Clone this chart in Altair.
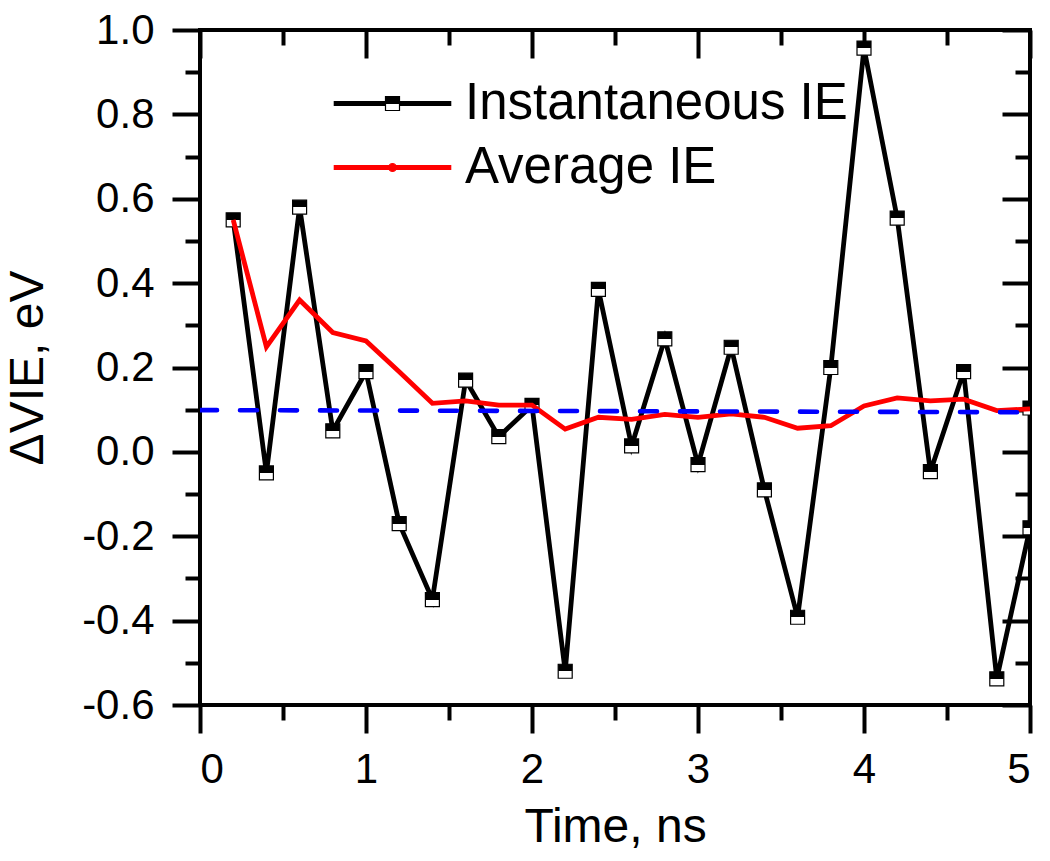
import altair as alt
import pandas as pd

FONT = "Liberation Sans"
series_names = ["Instantaneous IE", "Average IE"]

# Instantaneous IE (black line with half-filled squares)
time_inst = [0.2, 0.4, 0.6, 0.8, 1.0, 1.2, 1.4, 1.6, 1.8, 2.0, 2.2, 2.4, 2.6,
             2.8, 3.0, 3.2, 3.4, 3.6, 3.8, 4.0, 4.2, 4.4, 4.6, 4.8, 5.0, 5.0]
inst_vals = [0.55, -0.05, 0.58, 0.05, 0.19, -0.17, -0.35, 0.17, 0.036, 0.11,
             -0.52, 0.385, 0.014, 0.268, -0.03, 0.248, -0.09, -0.392, 0.20,
             0.957, 0.554, -0.047, 0.19, -0.538, -0.18, 0.104]

# Average IE (red line)
time_avg = [0.2, 0.4, 0.6, 0.8, 1.0, 1.2, 1.4, 1.6, 1.8, 2.0, 2.2, 2.4, 2.6,
            2.8, 3.0, 3.2, 3.4, 3.6, 3.8, 4.0, 4.2, 4.4, 4.6, 4.8, 5.0]
avg_vals = [0.55, 0.249, 0.36, 0.283, 0.263, 0.19, 0.115, 0.121, 0.111, 0.111,
            0.054, 0.082, 0.077, 0.089, 0.082, 0.09, 0.082, 0.056, 0.062,
            0.109, 0.128, 0.121, 0.125, 0.098, 0.102]

# Blue dashed reference line
time_fit = [0.0, 5.0]
fit_vals = [0.099, 0.094]

x_major = [0, 1, 2, 3, 4, 5]
x_minor = [0.5, 1.5, 2.5, 3.5, 4.5]
y_major = [-0.6, -0.4, -0.2, 0.0, 0.2, 0.4, 0.6, 0.8, 1.0]
y_minor = [-0.5, -0.3, -0.1, 0.1, 0.3, 0.5, 0.7, 0.9]

inst_df = pd.DataFrame({"t": time_inst, "v": inst_vals,
                        "series": series_names[0],
                        "idx": list(range(len(time_inst)))})
avg_df = pd.DataFrame({"t": time_avg, "v": avg_vals,
                       "series": series_names[1],
                       "idx": list(range(len(time_avg)))})
fit_df = pd.DataFrame({"t": time_fit, "v": fit_vals})

xs = alt.Scale(domain=[0, 5], nice=False, zero=False)
ys = alt.Scale(domain=[-0.6, 1.0], nice=False, zero=False)

LW = 4      # frame / ticks
DLW = 4.8   # data lines
minus_fix = "replace(format(datum.value, '.1f'), '\u2212', '-')"


def minor_axis(orient, values, size, offset=0):
    kw = dict(orient=orient, values=values, tickSize=size, tickWidth=LW,
              tickColor="black", domain=False, grid=False, labels=False,
              title=None)
    if offset:
        kw["offset"] = offset
    return alt.Axis(**kw)


x_bottom = alt.Axis(orient="bottom", values=x_major, format="d",
                    tickSize=28, tickWidth=LW, tickColor="black",
                    domain=False, grid=False, labelFontSize=42,
                    labelFont=FONT, labelColor="black", labelPadding=16,
                    title="Time, ns", titleFont=FONT, titleFontSize=48,
                    titleFontWeight="normal", titleColor="black",
                    titlePadding=13)
y_left = alt.Axis(orient="left", values=y_major, labelExpr=minus_fix,
                  tickSize=28, tickWidth=LW, tickColor="black",
                  domain=False, grid=False, labelFontSize=42,
                  labelFont=FONT, labelColor="black", labelPadding=18,
                  title="ΔVIE, eV", titleFont=FONT, titleFontSize=48,
                  titleFontWeight="normal", titleColor="black",
                  titlePadding=29)

LEG_X = 167
LEG_Y = 48
line_legend = alt.Legend(orient="none", legendX=LEG_X, legendY=LEG_Y,
                         title=None, symbolType="M-8.4,0H8.4",
                         symbolSize=196, symbolStrokeWidth=DLW,
                         labelFontSize=51, labelFont=FONT,
                         labelColor="black", labelOffset=47, labelLimit=0,
                         rowPadding=12, padding=0)
marker_legend = alt.Legend(orient="none", legendX=LEG_X, legendY=LEG_Y,
                           title=None, symbolSize=196, symbolStrokeWidth=1.2,
                           labelFontSize=51, labelFont=FONT,
                           labelColor="rgba(0,0,0,0)", labelOffset=47,
                           labelLimit=0, rowPadding=12, padding=0)

half_fill = ("{gradient: 'linear', x1: 0, y1: 0, x2: 0, y2: 1, stops: ["
             "{offset: 0, color: 'black'}, {offset: 0.5, color: 'black'}, "
             "{offset: 0.5, color: 'white'}, {offset: 1, color: 'white'}]}")
dot_path = "M0.55,0A0.55,0.55,0,1,1,-0.55,0A0.55,0.55,0,1,1,0.55,0Z"

black_line = alt.Chart(inst_df).mark_line(strokeWidth=DLW, clip=True).encode(
    x=alt.X("t:Q", scale=xs, axis=x_bottom),
    y=alt.Y("v:Q", scale=ys, axis=y_left),
    order=alt.Order("idx:Q"),
    color=alt.Color("series:N",
                    scale=alt.Scale(domain=series_names, range=["black", "red"]),
                    legend=line_legend),
)

markers = alt.Chart(inst_df).mark_point(filled=True, opacity=1, size=196,
                                        strokeWidth=1.2, clip=True).encode(
    x=alt.X("t:Q", scale=xs, axis=minor_axis("bottom", x_minor, 15)),
    y=alt.Y("v:Q", scale=ys, axis=minor_axis("left", y_minor, 15)),
    fill=alt.Fill("series:N",
                  scale=alt.Scale(domain=series_names,
                                  range=[alt.ExprRef(half_fill), "red"]),
                  legend=marker_legend),
    stroke=alt.Stroke("series:N",
                      scale=alt.Scale(domain=series_names, range=["black", "red"]),
                      legend=marker_legend),
    shape=alt.Shape("series:N",
                    scale=alt.Scale(domain=series_names, range=["square", dot_path]),
                    legend=marker_legend),
)

red_line = alt.Chart(avg_df).mark_line(strokeWidth=DLW, color="red", clip=True).encode(
    x=alt.X("t:Q", scale=xs, axis=minor_axis("top", x_major, 28, -28)),
    y=alt.Y("v:Q", scale=ys, axis=minor_axis("right", y_major, 28, -28)),
    order=alt.Order("idx:Q"),
)

blue_line = alt.Chart(fit_df).mark_line(strokeWidth=4.6, color="#0000ff",
                                        strokeDash=[17, 23], strokeCap="round",
                                        clip=True).encode(
    x=alt.X("t:Q", scale=xs, axis=minor_axis("top", x_minor, 15, -15)),
    y=alt.Y("v:Q", scale=ys, axis=minor_axis("right", y_minor, 15, -15)),
)

chart = alt.layer(black_line, markers, red_line, blue_line).resolve_axis(
    x="independent", y="independent"
).resolve_legend(
    color="independent", fill="independent", stroke="independent",
    shape="independent"
).properties(
    width=830, height=675,
    padding={"left": 192, "top": 22, "right": 12, "bottom": 146},
    autosize=alt.AutoSizeParams(type="none"),
).configure_view(stroke="black", strokeWidth=LW)

chart.save("out.html", embed_options={"renderer": "svg", "actions": False})
